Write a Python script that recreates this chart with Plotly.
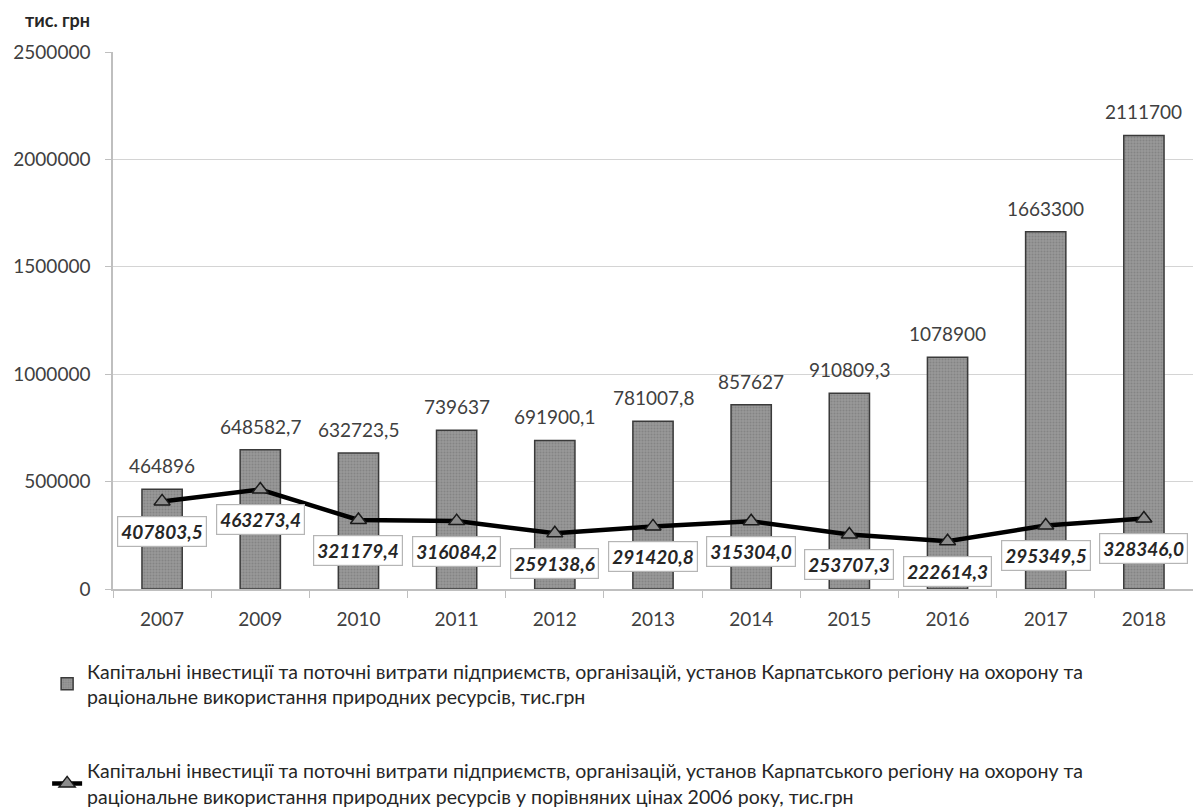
import plotly.graph_objects as go

years = ["2007", "2009", "2010", "2011", "2012", "2013", "2014", "2015", "2016", "2017", "2018"]
investments = [464896, 648582.7, 632723.5, 739637, 691900.1, 781007.8, 857627, 910809.3, 1078900, 1663300, 2111700]
investments_2006 = [407803.5, 463273.4, 321179.4, 316084.2, 259138.6, 291420.8, 315304.0, 253707.3, 222614.3, 295349.5, 328346.0]
bar_labels = ["464896", "648582,7", "632723,5", "739637", "691900,1", "781007,8", "857627", "910809,3", "1078900", "1663300", "2111700"]
line_labels = ["407803,5", "463273,4", "321179,4", "316084,2", "259138,6", "291420,8", "315304,0", "253707,3", "222614,3", "295349,5", "328346,0"]
y_ticks = [0, 500000, 1000000, 1500000, 2000000, 2500000]

name_bar = ("Капітальні інвестиції та поточні витрати підприємств, організацій, установ Карпатського регіону на охорону та<br>"
            "раціональне використання природних ресурсів, тис.грн")
name_line = ("Капітальні інвестиції та поточні витрати підприємств, організацій, установ Карпатського регіону на охорону та<br>"
             "раціональне використання природних ресурсів у порівняних цінах 2006 року, тис.грн")

FONT = "Lato"

fig = go.Figure()
fig.add_trace(go.Bar(
    x=years, y=investments, name=name_bar, width=0.41, legendgroup="a",
    marker=dict(color="#8c8c8c", line=dict(color="#3a3a3a", width=1.5),
                pattern=dict(shape=".", fgcolor="#707070", bgcolor="#999999", size=3, solidity=0.4)),
))
fig.add_trace(go.Scatter(
    x=years, y=investments_2006, name=name_line, mode="lines+markers", legendgroup="b",
    line=dict(color="black", width=4.5),
    marker=dict(symbol="triangle-up", size=14, color="#8c8c8c", line=dict(color="#1a1a1a", width=1.5)),
))

for i, (v, t) in enumerate(zip(investments, bar_labels)):
    fig.add_annotation(x=i, y=v, text=t, showarrow=False, yanchor="bottom", yshift=10,
                       font=dict(family=FONT, size=19, color="#404040"))

for i, (v, t) in enumerate(zip(investments_2006, line_labels)):
    fig.add_annotation(x=i, y=v, text="<b><i>" + t + "</i></b>", showarrow=False, yanchor="middle", yshift=-30,
                       bgcolor="white", bordercolor="#b5b5b5", borderwidth=1.2, borderpad=3,
                       font=dict(family=FONT, size=19, color="#262626"))

fig.add_annotation(xref="paper", yref="paper", x=-0.083, y=1.0, xanchor="left", yanchor="middle", yshift=32,
                   text="<b>тис. грн</b>", showarrow=False, font=dict(family=FONT, size=18, color="#262626"))

fig.update_layout(
    width=1193, height=801,
    margin=dict(l=105, r=8, t=44, b=220, autoexpand=False),
    paper_bgcolor="white", plot_bgcolor="white",
    font=dict(family=FONT, size=19, color="#404040"),
    legend=dict(x=-0.061, y=-0.117, xanchor="left", yanchor="top", orientation="v",
                font=dict(family=FONT, size=19.5, color="#262626"), tracegroupgap=46,
                bgcolor="rgba(0,0,0,0)", itemwidth=30),
)
fig.update_xaxes(type="category", range=[-0.5, len(years) - 0.5], showline=True, linecolor="#bfbfbf", linewidth=1.5,
                 ticks="outside", tickson="boundaries", ticklen=7, tickcolor="#bfbfbf",
                 ticklabelstandoff=12, showgrid=False, tickangle=0)
fig.update_yaxes(range=[0, 2500000], tickvals=y_ticks, tickformat="d", showline=True, linecolor="#bfbfbf",
                 linewidth=1.5, ticks="outside", ticklen=6, tickcolor="#bfbfbf", gridcolor="#d4d4d4",
                 gridwidth=1.2, ticklabelstandoff=11, zeroline=False)

fig.write_html("out.html")
